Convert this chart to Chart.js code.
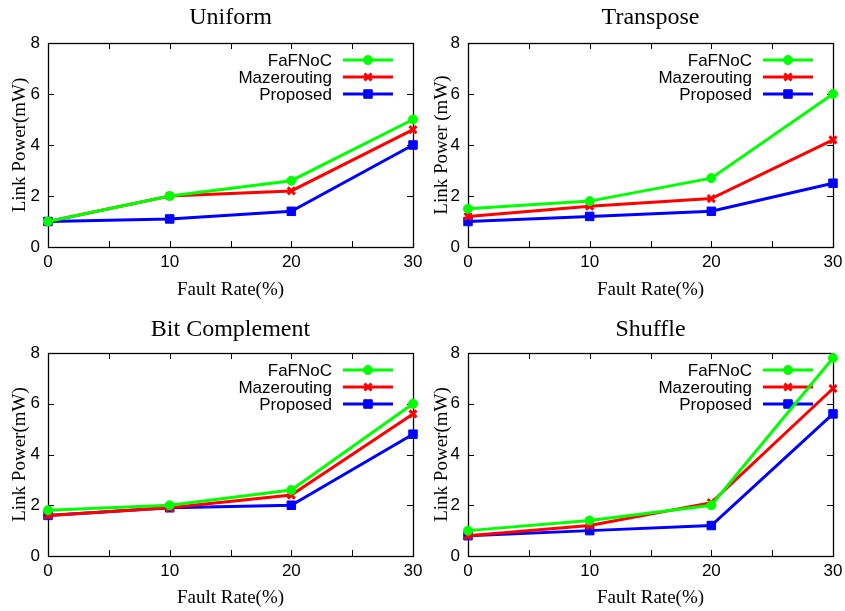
<!DOCTYPE html>
<html>
<head>
<meta charset="utf-8">
<script src="https://cdn.jsdelivr.net/npm/chart.js@4.4.1/dist/chart.umd.min.js"></script>
<style>
body{margin:0;background:#fff;}
.panel{position:absolute;}
</style>
</head>
<body>
<div class="panel" style="left:0;top:0"><canvas id="c1" width="422" height="305"></canvas></div>
<div class="panel" style="left:422px;top:0"><canvas id="c2" width="423" height="305"></canvas></div>
<div class="panel" style="left:0;top:305px"><canvas id="c3" width="422" height="306"></canvas></div>
<div class="panel" style="left:422px;top:305px"><canvas id="c4" width="423" height="306"></canvas></div>
<script>
// fault rate (%) on the x axis
const faultRates = [0, 10, 20, 30];
const seriesNames = ['FaFNoC', 'Mazerouting', 'Proposed'];
const seriesColors = ['rgb(0,255,0)', 'rgb(255,0,0)', 'rgb(0,0,255)'];
const xTicks = [0, 10, 20, 30];
const yTicks = [0, 2, 4, 6, 8];

// link power (mW)
const uniformFaFNoC = [1.0, 2.0, 2.6, 5.0];
const uniformMaze = [1.0, 2.0, 2.2, 4.6];
const uniformProposed = [1.0, 1.1, 1.4, 4.0];

const transposeFaFNoC = [1.5, 1.8, 2.7, 6.0];
const transposeMaze = [1.2, 1.6, 1.9, 4.2];
const transposeProposed = [1.0, 1.2, 1.4, 2.5];

const bitcompFaFNoC = [1.8, 2.0, 2.6, 6.0];
const bitcompMaze = [1.6, 1.9, 2.4, 5.6];
const bitcompProposed = [1.6, 1.9, 2.0, 4.8];

const shuffleFaFNoC = [1.0, 1.4, 2.0, 7.8];
const shuffleMaze = [0.8, 1.2, 2.1, 6.6];
const shuffleProposed = [0.8, 1.0, 1.2, 5.6];

const markers = [
  {pointStyle: 'circle', radius: 4.5, borderWidth: 1},
  {pointStyle: 'crossRot', radius: 5, borderWidth: 3},
  {pointStyle: 'rect', radius: 6, borderWidth: 1}
];

const sans = 'Liberation Sans';
const serif = 'Liberation Serif';

// box, inward ticks on all sides, and the key inside the top right corner
const framePlugin = {
  id: 'frame',
  beforeDatasetsDraw(chart) {
    const {ctx, chartArea: a, scales: {x, y}} = chart;
    ctx.save();
    ctx.strokeStyle = '#000';
    ctx.lineWidth = 1;
    ctx.beginPath();
    for (let v = 5; v < 30; v += 5) {
      const px = Math.round(x.getPixelForValue(v)) + 0.5;
      ctx.moveTo(px, a.bottom); ctx.lineTo(px, a.bottom - 6);
      ctx.moveTo(px, a.top); ctx.lineTo(px, a.top + 6);
    }
    for (let v = 2; v < 8; v += 2) {
      const py = Math.round(y.getPixelForValue(v)) + 0.5;
      ctx.moveTo(a.left, py); ctx.lineTo(a.left + 6, py);
      ctx.moveTo(a.right, py); ctx.lineTo(a.right - 6, py);
    }
    ctx.stroke();
    ctx.lineWidth = 1.3;
    ctx.strokeRect(Math.round(a.left) + 0.5, Math.round(a.top) + 0.5,
      Math.round(a.right - a.left), Math.round(a.bottom - a.top));

    // key
    ctx.font = '17px "' + sans + '"';
    ctx.textAlign = 'right';
    ctx.textBaseline = 'middle';
    chart.data.datasets.forEach((ds, i) => {
      const ry = a.top + 17 * (i + 1);
      ctx.fillStyle = '#000';
      ctx.fillText(ds.label, a.right - 81, ry + 1);
      ctx.strokeStyle = ds.borderColor;
      ctx.lineWidth = 3;
      ctx.beginPath();
      ctx.moveTo(a.right - 70, ry); ctx.lineTo(a.right - 20, ry);
      ctx.stroke();
      ctx.fillStyle = ds.borderColor;
      ctx.lineWidth = markers[i].borderWidth;
      Chart.helpers.drawPoint(ctx, {
        pointStyle: markers[i].pointStyle, radius: markers[i].radius,
        rotation: 0, borderWidth: markers[i].borderWidth
      }, a.right - 45, ry);
    });
    ctx.restore();
  },
  afterDraw(chart) {
    const {ctx, chartArea: a} = chart;
    ctx.save();
    ctx.font = '24px "' + serif + '"';
    ctx.fillStyle = '#000';
    ctx.textAlign = 'center';
    ctx.textBaseline = 'middle';
    ctx.fillText(chart.options.panelTitle, (a.left + a.right) / 2, chart.options.titleY);
    ctx.restore();
  }
};

function makePanel(id, title, yTitle, values, g) {
  const datasets = values.map((vals, i) => ({
    label: seriesNames[i],
    data: faultRates.map((fr, k) => ({x: fr, y: vals[k]})),
    borderColor: seriesColors[i],
    backgroundColor: seriesColors[i],
    borderWidth: 3,
    pointStyle: markers[i].pointStyle,
    pointRadius: markers[i].radius,
    pointBorderWidth: markers[i].borderWidth,
    tension: 0,
    clip: false
  }));
  new Chart(document.getElementById(id), {
    type: 'line',
    data: {datasets: datasets},
    plugins: [framePlugin],
    options: {
      responsive: false,
      animation: false,
      panelTitle: title,
      titleY: g.titleY,
      layout: {padding: {top: g.top, right: g.right, left: 0, bottom: 0}},
      plugins: {legend: {display: false}, tooltip: {enabled: false}},
      scales: {
        x: {
          type: 'linear', min: 0, max: 30,
          afterFit: (s) => { s.height = g.xHeight; s.paddingLeft = 0; s.paddingRight = 0; },
          afterBuildTicks: (s) => { s.ticks = xTicks.map(v => ({value: v})); },
          grid: {display: false, drawTicks: false},
          border: {display: false},
          ticks: {color: '#000', font: {family: sans, size: 17}, padding: 5, maxRotation: 0},
          title: {display: true, text: 'Fault Rate(%)', color: '#000',
            font: {family: serif, size: 19}, padding: {top: 0, bottom: g.xTitlePad}}
        },
        y: {
          type: 'linear', min: 0, max: 8,
          afterFit: (s) => { s.width = g.left; s.paddingTop = 0; s.paddingBottom = 0; },
          afterBuildTicks: (s) => { s.ticks = yTicks.map(v => ({value: v})); },
          grid: {display: false, drawTicks: false},
          border: {display: false},
          ticks: {color: '#000', font: {family: sans, size: 17}, padding: 8},
          title: {display: true, text: yTitle, color: '#000',
            font: {family: serif, size: 19}, padding: {top: 9, bottom: 0}}
        }
      }
    }
  });
}

makePanel('c1', 'Uniform', 'Link Power(mW)',
  [uniformFaFNoC, uniformMaze, uniformProposed],
  {top: 43, right: 9, left: 48, xHeight: 58, xTitlePad: 4, titleY: 18});
makePanel('c2', 'Transpose', 'Link Power (mW)',
  [transposeFaFNoC, transposeMaze, transposeProposed],
  {top: 43, right: 12, left: 46, xHeight: 58, xTitlePad: 4, titleY: 18});
makePanel('c3', 'Bit Complement', 'Link Power(mW)',
  [bitcompFaFNoC, bitcompMaze, bitcompProposed],
  {top: 48, right: 9, left: 48, xHeight: 55, xTitlePad: 2, titleY: 25});
makePanel('c4', 'Shuffle', 'Link Power(mW)',
  [shuffleFaFNoC, shuffleMaze, shuffleProposed],
  {top: 48, right: 12, left: 46, xHeight: 55, xTitlePad: 2, titleY: 25});
</script>
</body>
</html>
